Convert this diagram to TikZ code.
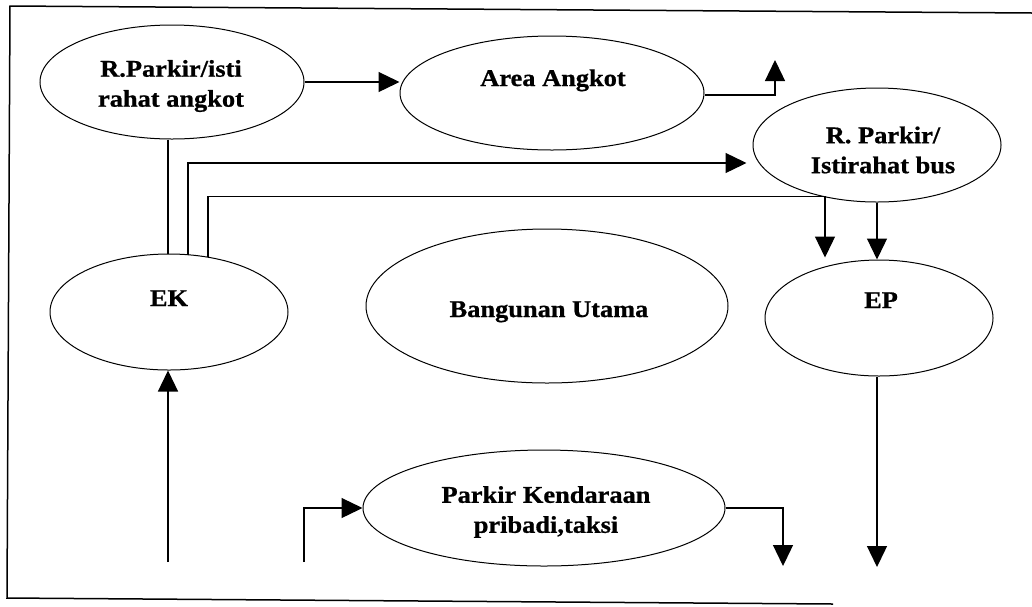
\documentclass[tikz,border=0pt]{standalone}
\usepackage{fontspec}
\setmainfont{Liberation Serif}[FakeStretch=1.1, BoldFeatures={FakeBold=0.8}]
\usetikzlibrary{shapes.geometric,arrows.meta,calc}
\tikzset{
  oval/.style={draw, ellipse, line width=1pt, inner sep=0pt},
  lbl/.style={font=\bfseries\fontsize{24}{30}\selectfont, align=center, inner sep=0pt},
  arr/.style={line width=1.3pt, -{Triangle[length=21pt,width=20pt]}},
  plain/.style={line width=1.3pt},
  frame/.style={line width=1.5pt}
}
\begin{document}
\begin{tikzpicture}[x=1pt,y=-1pt]
\useasboundingbox (0,0) rectangle (1032,606);
% frame
\draw[frame] (1032,13) -- (10,6) -- (7,598) -- (833,604);
% ellipses
\node[oval, minimum width=264pt, minimum height=114pt] (ang) at (172,82) {};
\node[oval, minimum width=304pt, minimum height=114pt] (area) at (552,93) {};
\node[oval, minimum width=248pt, minimum height=114pt] (bus) at (877,145) {};
\node[oval, minimum width=238pt, minimum height=116pt] (ek) at (169,312) {};
\node[oval, minimum width=362pt, minimum height=154pt] (bu) at (547,306) {};
\node[oval, minimum width=228pt, minimum height=116pt] (ep) at (879,318) {};
\node[oval, minimum width=362pt, minimum height=116pt] (pk) at (544,508) {};
% labels
\node[lbl] (angT) at (171,86) {R.Parkir/isti\\rahat angkot};
\node[lbl, anchor=base] (areaT) at (553,86) {Area Angkot};
\node[lbl] (busT) at (883,150) {R. Parkir/\\Istirahat bus};
\node[lbl, anchor=base] (ekT) at (169,306) {EK};
\node[lbl, anchor=base] (buT) at (549,317) {Bangunan Utama};
\node[lbl, anchor=base] (epT) at (881,308) {EP};
\node[lbl] (pkT) at (546,512) {Parkir Kendaraan\\pribadi,taksi};
% free ends
\coordinate (angout) at (775,60);
\coordinate (ekin) at (168,562);
\coordinate (pkin) at (304,562);
\coordinate (pkout) at (783,566);
\coordinate (epout) at (877,567);
% connectors
\draw[arr] (ang.east) -- (ang.east -| area.west);
\draw[arr] ($(area.east)+(0,2)$) -| (angout);
\draw[plain] ($(ang.south)+(-4,0)$) -- ($(ek.north)+(-1,0)$);
\draw[arr] ($(ek.north)+(19,1)$) |- ($(bus.west)+(-6,18)$);
\draw[arr] ($(ek.north)+(39,3)$) |- ($(ek.north)+(100,-57)$) -| ($(ep.north)+(-54,-2)$);
\draw[arr] (bus.south) -- (bus.south |- ep.north);
\draw[arr] (ekin) -- (ekin |- ek.south);
\draw[arr] (pkin) |- (pk.west);
\draw[arr] (pk.east) -| (pkout);
\draw[arr] (ep.south -| epout) -- (epout);
\end{tikzpicture}
\end{document}
